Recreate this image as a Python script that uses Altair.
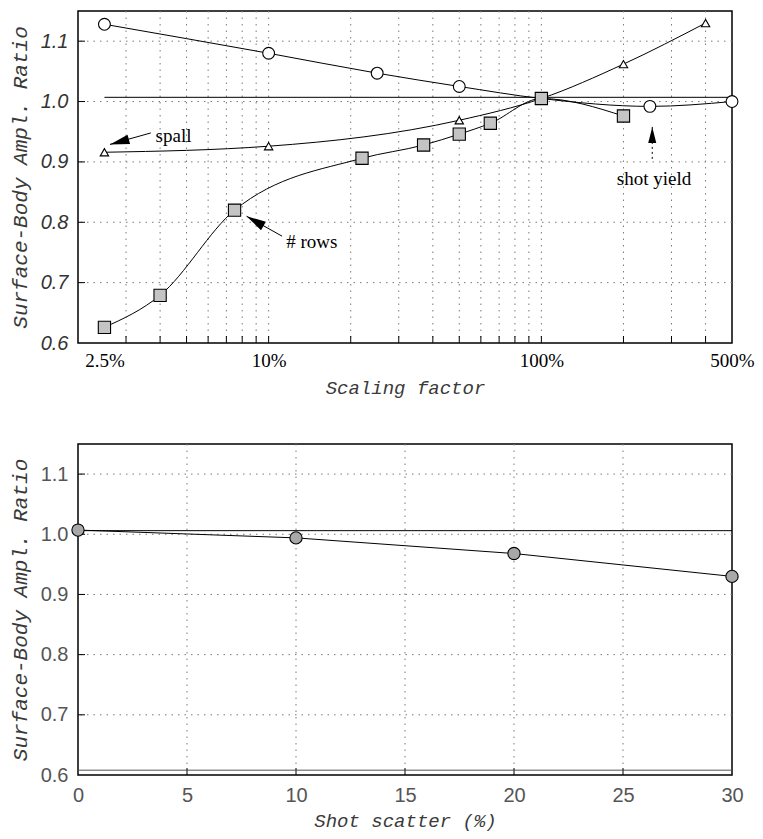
import altair as alt
import pandas as pd

# ---- scaling-factor study (percent of nominal, amplitude ratio) ----
shot_yield_pct = [2.5, 10, 25, 50, 100, 250, 500]
shot_yield_ratio = [1.128, 1.080, 1.047, 1.025, 1.005, 0.992, 1.000]
spall_pct = [2.5, 10, 50, 100, 200, 400]
spall_ratio = [0.916, 0.926, 0.969, 1.005, 1.062, 1.130]
rows_pct = [2.5, 4, 7.5, 22, 37, 50, 65, 100, 200]
rows_ratio = [0.626, 0.679, 0.820, 0.906, 0.928, 0.946, 0.964, 1.005, 0.976]
ref_top_pct = [2.5, 500]
ref_top_ratio = [1.007, 1.007]

# ---- shot-scatter study ----
scatter_pct = [0, 10, 20, 30]
scatter_ratio = [1.007, 0.994, 0.968, 0.930]
ref_bottom_pct = [0, 30]
ref_bottom_ratio = [1.006, 1.006]
floor_bottom_ratio = [0.608]

# ---- axes, ticks and grids ----
scale_labels = [2.5, 10, 100, 500]
scale_minor = [3, 4, 5, 6, 7, 8, 9, 10, 20, 30, 40, 50, 60, 70, 80, 90,
               100, 200, 300, 400]
ratio_labels = [0.6, 0.7, 0.8, 0.9, 1.0, 1.1]
ratio_grid = [0.7, 0.8, 0.9, 1.0, 1.1]
scatter_labels = [0, 5, 10, 15, 20, 25, 30]
scatter_grid = [5, 10, 15, 20, 25]

# ---- annotations on the scaling-factor panel ----
note_text = ["spall", "# rows", "shot yield"]
note_pct = [3.85, 11.6, 189]
note_ratio = [0.943, 0.767, 0.871]
arrow_tail_pct = [3.7, 11.2, 255]
arrow_tail_ratio = [0.948, 0.777, 0.905]
arrow_tip_pct = [2.62, 8.3, 255]
arrow_tip_ratio = [0.929, 0.810, 0.958]
arrow_angle = [165, 210, 270]
arrow_head = [380, 380, 260]
arrow_dashed = [False, False, True]

W, H_TOP, H_BOT = 654, 332, 331
GRID = dict(color="#7a7a7a", strokeWidth=1, strokeDash=[1.5, 5])
HEAD = "M0,0 L-2,-0.5 L-2,0.5 Z"
Y_TITLE = "Surface-Body Ampl. Ratio"

y_scale = alt.Scale(domain=[0.6, 1.15], nice=False, zero=False)
x_top_scale = alt.Scale(type="log", domain=[2, 500], nice=False)
x_bot_scale = alt.Scale(domain=[0, 30], nice=False, zero=False)


def df(**cols):
    return pd.DataFrame(cols)


def make_axis(**kw):
    base = dict(ticks=False, tickSize=0, domain=False, grid=False,
                labelOverlap=False, labelFlush=False,
                titleFont="Liberation Mono", titleFontStyle="italic",
                titleFontWeight="normal", titleColor="#3a3a3a")
    base.update(kw)
    return alt.Axis(**base)


class Panel:
    """Shared x/y channel builders so every layer carries the same axes."""

    def __init__(self, xscale, xaxis, yaxis, h):
        self.xscale, self.xaxis, self.yaxis, self.h = xscale, xaxis, yaxis, h

    def X(self, field):
        return alt.X(field, type="quantitative", scale=self.xscale, axis=self.xaxis)

    def Y(self, field):
        return alt.Y(field, type="quantitative", scale=y_scale, axis=self.yaxis)

    def x_grid(self, values):
        return alt.Chart(df(v=values)).mark_rule(**GRID).encode(x=self.X("v"))

    def y_grid(self, values):
        return alt.Chart(df(v=values)).mark_rule(**GRID).encode(y=self.Y("v"))

    def x_ticks(self, values):
        return alt.Chart(df(v=values)).mark_rule(color="black", strokeWidth=1).encode(
            x=self.X("v"), y=alt.value(self.h), y2=alt.value(self.h - 7))

    def y_ticks(self, values):
        return alt.Chart(df(v=values)).mark_rule(color="black", strokeWidth=1).encode(
            y=self.Y("v"), x=alt.value(0), x2=alt.value(7))

    def curve(self, xs, ys, interp="monotone"):
        return alt.Chart(df(x=xs, y=ys)).mark_line(
            color="black", strokeWidth=1, interpolate=interp).encode(
            x=self.X("x"), y=self.Y("y"))

    def markers(self, xs, ys, shape, fill, size):
        return alt.Chart(df(x=xs, y=ys)).mark_point(
            shape=shape, filled=True, fill=fill, stroke="black",
            strokeWidth=1.1, opacity=1, size=size).encode(
            x=self.X("x"), y=self.Y("y"))


# ---------------- top panel: scaling factor ----------------
top_p = Panel(
    x_top_scale,
    make_axis(values=scale_labels, labelExpr="datum.value + '%'",
              labelFont="Liberation Serif", labelFontSize=19,
              labelColor="black", labelPadding=8, title="Scaling factor",
              titleFontSize=19, titlePadding=8),
    make_axis(values=ratio_labels, format=".1f", labelFont="Liberation Sans",
              labelFontStyle="italic", labelFontSize=20, labelColor="#333",
              labelPadding=10, title=Y_TITLE, titleFontSize=21,
              titlePadding=10),
    H_TOP,
)

arrows = pd.DataFrame({
    "x": arrow_tail_pct, "y": arrow_tail_ratio,
    "x2": arrow_tip_pct, "y2": arrow_tip_ratio,
    "angle": arrow_angle, "head": arrow_head, "dashed": arrow_dashed,
})
arrow_solid = alt.Chart(arrows[~arrows.dashed]).mark_rule(
    color="black", strokeWidth=1).encode(
    x=top_p.X("x"), y=top_p.Y("y"), x2="x2", y2="y2")
arrow_dotted = alt.Chart(arrows[arrows.dashed]).mark_rule(
    color="black", strokeWidth=1, strokeDash=[2, 3]).encode(
    x=top_p.X("x"), y=top_p.Y("y"), x2="x2", y2="y2")
arrow_heads = alt.Chart(arrows).mark_point(
    shape=HEAD, filled=True, color="black", opacity=1).encode(
    x=top_p.X("x2"), y=top_p.Y("y2"),
    angle=alt.Angle("angle:Q", scale=None),
    size=alt.Size("head:Q", scale=None))
notes = alt.Chart(df(x=note_pct, y=note_ratio, t=note_text)).mark_text(
    font="Liberation Serif", fontSize=19, align="left", baseline="middle",
    color="black").encode(x=top_p.X("x"), y=top_p.Y("y"), text="t:N")

top = alt.layer(
    top_p.x_grid(scale_minor),
    top_p.y_grid(ratio_grid),
    top_p.x_ticks(scale_minor),
    top_p.y_ticks(ratio_grid),
    top_p.curve(ref_top_pct, ref_top_ratio, "linear"),
    top_p.curve(shot_yield_pct, shot_yield_ratio),
    top_p.curve(spall_pct, spall_ratio),
    top_p.curve(rows_pct, rows_ratio),
    top_p.markers(shot_yield_pct, shot_yield_ratio, "circle", "white", 140),
    top_p.markers(spall_pct, spall_ratio, "triangle-up", "white", 70),
    top_p.markers(rows_pct, rows_ratio, "square", "#c4c4c4", 150),
    arrow_solid, arrow_dotted, arrow_heads, notes,
).properties(width=W, height=H_TOP)

# ---------------- bottom panel: shot scatter ----------------
bot_p = Panel(
    x_bot_scale,
    make_axis(values=scatter_labels, format="d", labelFont="Liberation Sans",
              labelFontSize=20, labelColor="#555", labelPadding=10,
              title="Shot scatter (%)", titleFontSize=19, titlePadding=6),
    make_axis(values=ratio_labels, format=".1f", labelFont="Liberation Sans",
              labelFontSize=20, labelColor="#555", labelPadding=10,
              title=Y_TITLE, titleFontSize=21, titlePadding=10),
    H_BOT,
)

floor_rule = alt.Chart(df(y=floor_bottom_ratio)).mark_rule(
    color="#555", strokeWidth=1).encode(y=bot_p.Y("y"))

bottom = alt.layer(
    bot_p.x_grid(scatter_grid),
    bot_p.y_grid(ratio_grid),
    bot_p.x_ticks(scatter_grid),
    bot_p.y_ticks(ratio_grid),
    floor_rule,
    bot_p.curve(ref_bottom_pct, ref_bottom_ratio, "linear"),
    bot_p.curve(scatter_pct, scatter_ratio, "linear"),
    bot_p.markers(scatter_pct, scatter_ratio, "circle", "#a8a8a8", 150),
).properties(width=W, height=H_BOT)

chart = alt.vconcat(top, bottom, spacing=44).properties(
    padding={"left": 8, "top": 9, "right": 5, "bottom": 5},
    background="white",
).configure_view(stroke="black", strokeWidth=1.5)

chart.save("out.html", embed_options={"renderer": "svg", "actions": False})
